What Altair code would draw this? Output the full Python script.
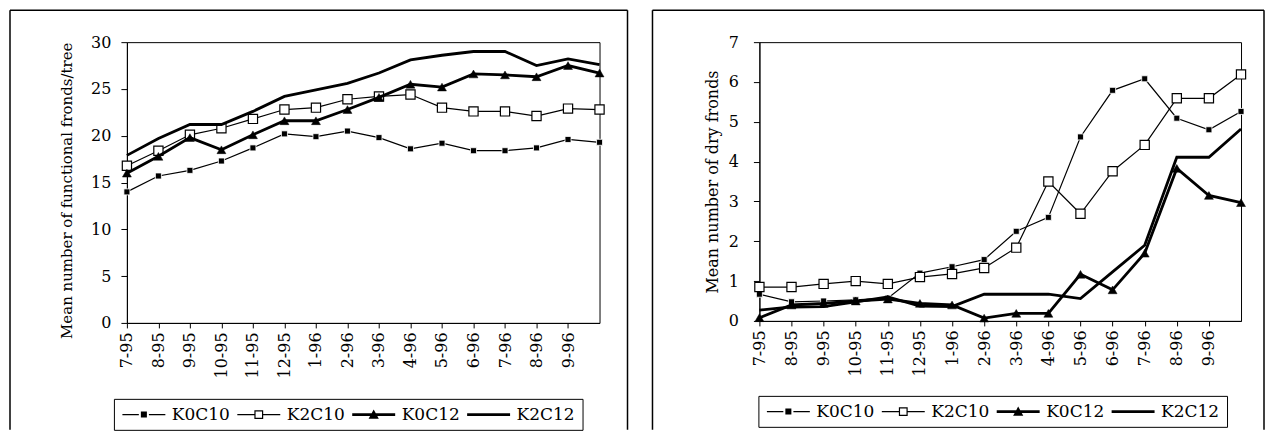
import altair as alt
import pandas as pd

labels = ["7-95", "8-95", "9-95", "10-95", "11-95", "12-95", "1-96", "2-96",
          "3-96", "4-96", "5-96", "6-96", "7-96", "8-96", "9-96"]
series = ["K0C10", "K2C10", "K0C12", "K2C12"]

left_K0C10 = [14.0, 15.7, 16.3, 17.3, 18.7, 20.2, 19.9, 20.5, 19.8, 18.6, 19.2, 18.4, 18.4, 18.7, 19.6, 19.3]
left_K2C10 = [16.8, 18.4, 20.1, 20.8, 21.8, 22.8, 23.0, 23.9, 24.2, 24.4, 23.0, 22.6, 22.6, 22.1, 22.9, 22.8]
left_K0C12 = [16.0, 17.8, 19.8, 18.5, 20.1, 21.6, 21.6, 22.8, 24.1, 25.5, 25.2, 26.6, 26.5, 26.3, 27.5, 26.7]
left_K2C12 = [17.9, 19.7, 21.2, 21.2, 22.6, 24.2, 24.9, 25.6, 26.7, 28.1, 28.6, 29.0, 29.0, 27.5, 28.2, 27.6]

right_K0C10 = [0.67, 0.48, 0.50, 0.53, 0.57, 1.20, 1.36, 1.54, 2.25, 2.60, 4.62, 5.79, 6.08, 5.09, 4.80, 5.26]
right_K2C10 = [0.85, 0.85, 0.93, 1.00, 0.93, 1.10, 1.18, 1.33, 1.84, 3.50, 2.69, 3.76, 4.42, 5.59, 5.59, 6.19]
right_K0C12 = [0.08, 0.40, 0.44, 0.50, 0.55, 0.44, 0.40, 0.07, 0.19, 0.19, 1.17, 0.78, 1.70, 3.83, 3.15, 2.97]
right_K2C12 = [0.27, 0.35, 0.36, 0.48, 0.60, 0.37, 0.36, 0.67, 0.67, 0.67, 0.56, 1.23, 1.90, 4.11, 4.11, 4.82]

FONT = "DejaVu Serif"

# legend symbols drawn as filled outlines (unit = half of the symbol box)
legend_paths = [
    "M-1,-0.086H1.35V0.086H-1Z M2.79,-0.086H5.14V0.086H2.79Z M1.64,-0.43H2.5V0.43H1.64Z",
    "M-1,-0.086H1.44V0.086H-1Z M2.70,-0.086H5.14V0.086H2.70Z "
    "M1.44,-0.63H2.70V0.63H1.44Z M1.61,-0.46V0.46H2.53V-0.46Z",
    "M-1,-0.2H5.14V0.2H-1Z M2.07,-0.72L2.8,0.58H1.34Z",
    "M-1,-0.2H5.14V0.2H-1Z",
]
line_widths = [1.2, 1.2, 2.8, 2.8]

label_expr = "[" + ",".join("'%s'" % l for l in labels) + ",''][datum.value]"


def panel(values, ymax, ystep, ytitle, width, height, frame, leg_xy,
          lab_pad, title_pad, title_anchor, title_size):
    rows = []
    for s, vals in zip(series, values):
        for i, v in enumerate(vals):
            rows.append({"series": s, "idx": i, "value": v})
    df = pd.DataFrame(rows)
    base = alt.Chart(df)

    x = alt.X("idx:Q", scale=alt.Scale(domain=[0, 15], nice=False, zero=False),
              axis=alt.Axis(values=list(range(15)), labelExpr=label_expr,
                            labelAngle=-90, title=None, tickSize=5,
                            labelPadding=4, labelFontSize=16))
    y = alt.Y("value:Q", scale=alt.Scale(domain=[0, ymax], nice=False),
              axis=alt.Axis(values=list(range(0, ymax + 1, ystep)), title=ytitle,
                            tickSize=6, labelPadding=lab_pad, titlePadding=title_pad,
                            labelFontSize=16, titleFontSize=title_size,
                            titleAnchor=title_anchor))

    layers = []
    one = alt.Chart(pd.DataFrame({"a": [0]}))
    fx1, fx2, fy1, fy2 = frame
    layers.append(one.mark_rule(color="black", strokeWidth=1.5).encode(
        x=alt.value(fx1), x2=alt.value(fx2), y=alt.value(fy1)))
    layers.append(one.mark_rule(color="black", strokeWidth=1.5).encode(
        x=alt.value(fx1), y=alt.value(fy1), y2=alt.value(fy2)))
    layers.append(one.mark_rule(color="black", strokeWidth=1.5).encode(
        x=alt.value(fx2), y=alt.value(fy1), y2=alt.value(fy2)))

    for s, w in zip(series, line_widths):
        sub = base.transform_filter(alt.datum.series == s)
        layers.append(sub.mark_line(color="black", strokeWidth=w).encode(x=x, y=y))
        if s == "K0C10":
            layers.append(sub.mark_point(shape="square", filled=True, fill="black",
                                         stroke="white", strokeWidth=0.8, size=36,
                                         opacity=1).encode(x=x, y=y))
        elif s == "K2C10":
            layers.append(sub.mark_point(shape="square", filled=True, fill="white",
                                         stroke="black", strokeWidth=1.2, size=85,
                                         opacity=1).encode(x=x, y=y))
        elif s == "K0C12":
            layers.append(sub.mark_point(shape="triangle-up", filled=True, fill="black",
                                         stroke="black", strokeWidth=0.5, size=80,
                                         opacity=1).encode(x=x, y=y))

    leg = alt.Legend(orient="none", legendX=leg_xy[0], legendY=leg_xy[1],
                     direction="horizontal", title=None, strokeColor="black",
                     fillColor="white", padding=7, labelFont=FONT, labelFontSize=17,
                     labelColor="black", symbolSize=196, labelOffset=34,
                     columnPadding=5, symbolOpacity=1, symbolStrokeWidth=0)
    layers.append(base.mark_point(opacity=0, stroke="black").encode(
        x=x, y=y,
        shape=alt.Shape("series:N", scale=alt.Scale(domain=series, range=legend_paths), legend=leg),
        fill=alt.Fill("series:N", scale=alt.Scale(domain=series, range=["black"] * 4), legend=leg),
    ))
    return alt.layer(*layers).properties(width=width, height=height)


left = panel([left_K0C10, left_K2C10, left_K0C12, left_K2C12], 30, 5,
             "Mean number of functional fronds/tree", 473, 281,
             (-117, 501, -32, 388), (-13, 357), 10, 16, "end", 15)
right = panel([right_K0C10, right_K2C10, right_K0C12, right_K2C12], 7, 1,
              "Mean number of dry fronds", 482, 279,
              (-107, 505, -32, 388), (-1, 354), 15, 8, "middle", 16)

chart = alt.hconcat(left, right, spacing=21).resolve_scale(
    shape="independent", fill="independent"
).resolve_legend(
    shape="independent", fill="independent"
).properties(padding=0).configure_view(
    stroke="black", strokeWidth=1
).configure_axis(
    domainColor="black", tickColor="black", labelColor="black", titleColor="black",
    labelFont=FONT, titleFont=FONT, titleFontWeight="normal", grid=False
)

chart.save("out.html", embed_options={"renderer": "svg", "actions": False})
